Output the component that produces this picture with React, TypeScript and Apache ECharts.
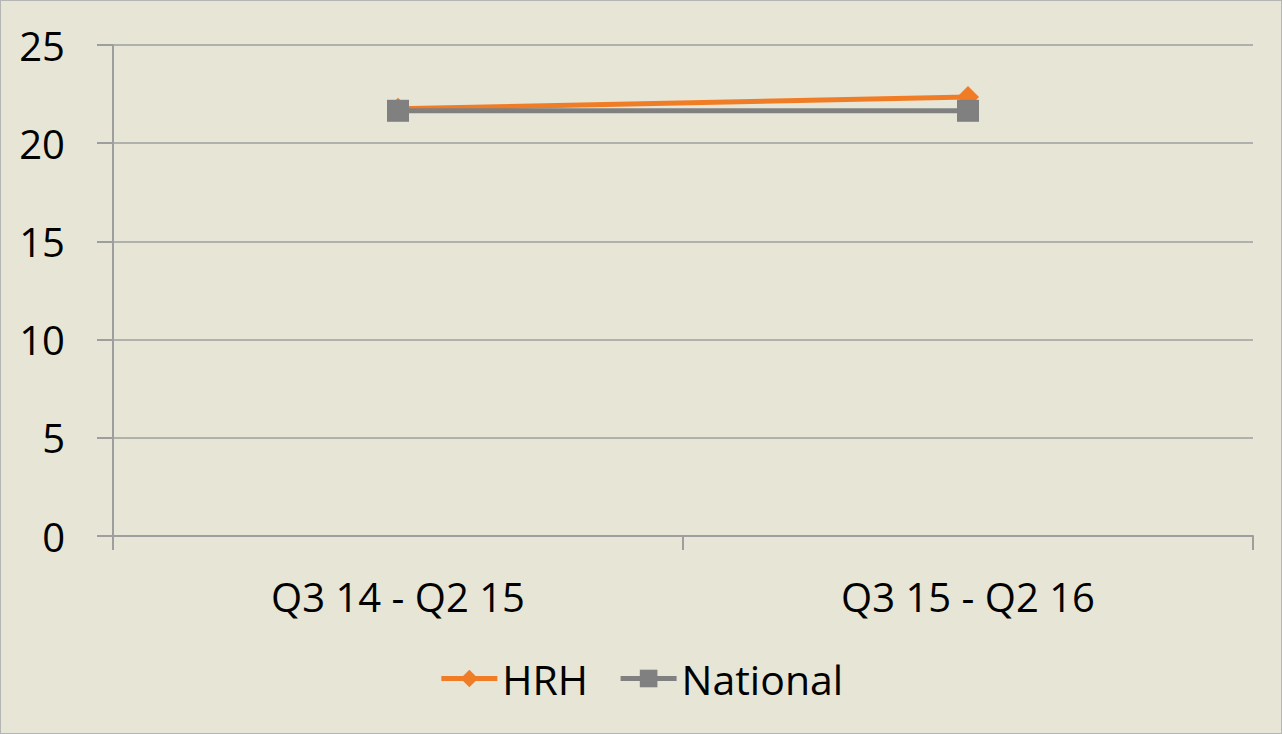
import React, { useEffect, useRef } from "react";
import * as echarts from "echarts";

const categories = ["Q3 14 - Q2 15", "Q3 15 - Q2 16"];
const hrh = [21.75, 22.35];
const national = [21.65, 21.65];
const yTicks = { min: 0, max: 25, interval: 5 };

export default function App() {
  const ref = useRef<HTMLDivElement>(null);
  useEffect(() => {
    document.body.style.margin = "0";
    const chart = echarts.init(ref.current!, null, { renderer: "svg" });
    const font = "Open Sans, DejaVu Sans, sans-serif";
    chart.setOption({
      animation: false,
      backgroundColor: "#E7E5D5",
      grid: { left: 112, right: 28, top: 44, bottom: 197 },
      legend: {
        bottom: 29,
        left: "center",
        itemWidth: 56,
        itemHeight: 22,
        itemGap: 30,
        textStyle: { fontSize: 41, color: "#000", fontFamily: font },
        lineStyle: { width: 5 },
        data: ["HRH", "National"],
      },
      xAxis: {
        type: "category",
        data: categories,
        boundaryGap: true,
        axisLine: { lineStyle: { color: "#9E9E9E", width: 2 } },
        axisTick: { show: true, length: 14, lineStyle: { color: "#9E9E9E", width: 2 } },
        axisLabel: { fontSize: 40, color: "#000", margin: 40, fontFamily: font },
      },
      yAxis: {
        type: "value",
        min: yTicks.min,
        max: yTicks.max,
        interval: yTicks.interval,
        axisLine: { show: true, lineStyle: { color: "#9E9E9E", width: 2 } },
        axisTick: { show: true, inside: false, length: 16, lineStyle: { color: "#9E9E9E", width: 2 } },
        splitLine: { lineStyle: { color: "#9E9E9E", width: 1.5 } },
        axisLabel: { fontSize: 40, color: "#000", margin: 48, fontFamily: font },
      },
      series: [
        {
          name: "HRH",
          type: "line",
          data: hrh,
          symbol: "diamond",
          symbolSize: 22,
          lineStyle: { color: "#F07D26", width: 5 },
          itemStyle: { color: "#F07D26" },
        },
        {
          name: "National",
          type: "line",
          data: national,
          symbol: "rect",
          symbolSize: 22,
          lineStyle: { color: "#808080", width: 5 },
          itemStyle: { color: "#808080" },
        },
      ],
    });
    return () => chart.dispose();
  }, []);
  return (
    <div
      ref={ref}
      style={{
        position: "absolute",
        left: 0,
        top: 0,
        width: 1282,
        height: 734,
        boxSizing: "border-box",
        border: "1px solid #B5B5B5",
      }}
    />
  );
}
